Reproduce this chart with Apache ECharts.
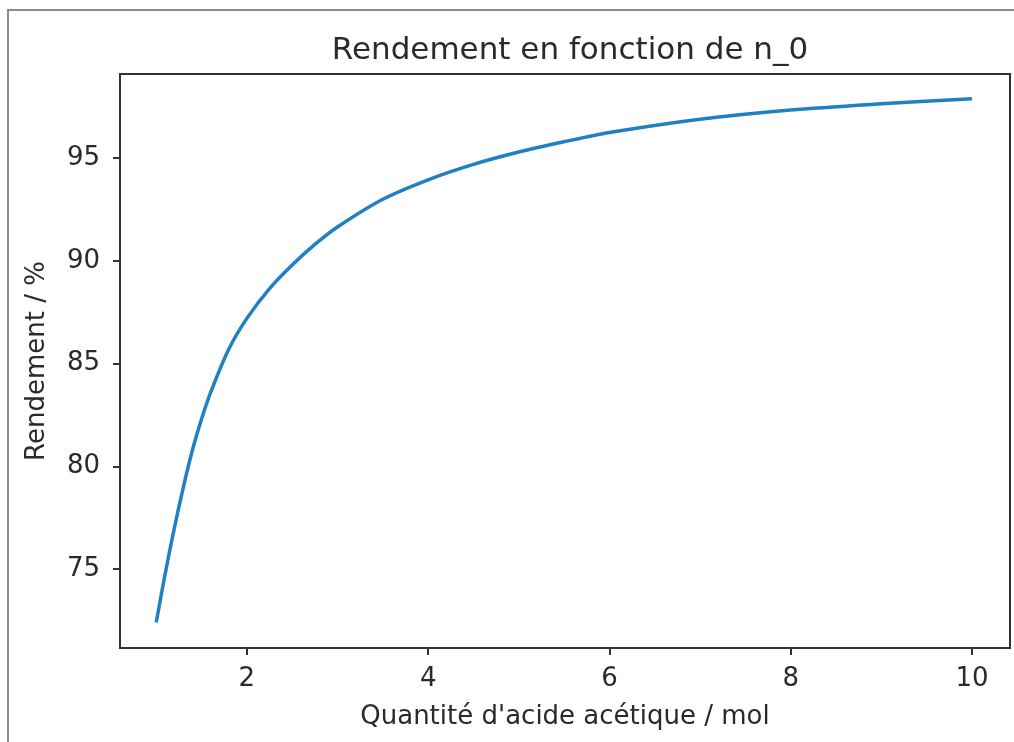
<!DOCTYPE html>
<html>
<head>
<meta charset="utf-8">
<script src="https://cdn.jsdelivr.net/npm/echarts@6/dist/echarts.min.js"></script>
<style>
html,body{margin:0;padding:0;background:#fff;}
#chart{width:1014px;height:742px;}
</style>
</head>
<body>
<div id="chart"></div>
<script>
const titleText = "Rendement en fonction de n_0";
const xName = "Quantité d'acide acétique / mol";
const yName = "Rendement / %";
const n0 = [1.0, 1.1, 1.2, 1.3, 1.4, 1.5, 1.6, 1.8, 2.0, 2.25, 2.5, 2.75, 3.0, 3.5, 4.0, 4.5, 5.0, 5.5, 6.0, 7.0, 8.0, 9.0, 10.0];
const rendement = [72.4, 74.8, 77.0, 79.0, 80.8, 82.3, 83.6, 85.7, 87.2, 88.65, 89.8, 90.8, 91.65, 93.0, 93.95, 94.7, 95.3, 95.8, 96.25, 96.9, 97.35, 97.65, 97.9];
const xTicks = [2, 4, 6, 8, 10];
const yTicks = [75, 80, 85, 90, 95];

const FONT = 'DejaVu Sans';
const chart = echarts.init(document.getElementById('chart'), null, {renderer: 'canvas'});
const pts = n0.map((x, i) => [x, rendement[i]]);
chart.setOption({
  animation: false,
  backgroundColor: '#ffffff',
  graphic: [{
    type: 'rect', shape: {x: 8, y: 10, width: 1030, height: 760},
    style: {fill: 'none', stroke: '#8a8a8a', lineWidth: 2}, silent: true, z: -1
  }],
  title: {
    text: titleText, left: 565, top: 30, textAlign: 'center',
    textStyle: {fontFamily: FONT, fontSize: 31, fontWeight: 'normal', color: '#2a2a2a'}
  },
  grid: {left: 120, top: 74, right: 4, bottom: 94, show: true, borderColor: '#333', borderWidth: 2, backgroundColor: 'transparent'},
  xAxis: {
    type: 'value', min: 0.6, max: 10.42,
    name: xName, nameLocation: 'middle', nameGap: 56,
    nameTextStyle: {fontFamily: FONT, fontSize: 26, color: '#2a2a2a'},
    axisLine: {show: false},
    axisTick: {show: true, length: 7, lineStyle: {color: '#333', width: 2}, customValues: xTicks},
    axisLabel: {fontFamily: FONT, fontSize: 26, color: '#2a2a2a', margin: 18, customValues: xTicks},
    splitLine: {show: false}
  },
  yAxis: {
    type: 'value', min: 71.15, max: 99.1,
    name: yName, nameLocation: 'middle', nameGap: 70,
    nameTextStyle: {fontFamily: FONT, fontSize: 26, color: '#2a2a2a'},
    axisLine: {show: false},
    axisTick: {show: true, length: 7, lineStyle: {color: '#333', width: 2}, customValues: yTicks},
    axisLabel: {fontFamily: FONT, fontSize: 26, color: '#2a2a2a', margin: 20, customValues: yTicks},
    splitLine: {show: false}
  },
  series: [{
    type: 'line', data: pts, smooth: 0.3, showSymbol: false,
    lineStyle: {color: '#1f80c2', width: 3.5}
  }]
});
</script>
</body>
</html>
